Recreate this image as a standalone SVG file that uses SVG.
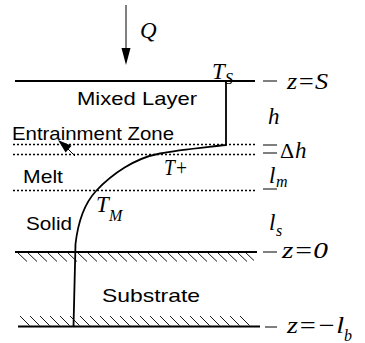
<svg xmlns="http://www.w3.org/2000/svg" width="365" height="343" viewBox="0 0 365 343">
<defs>
<style>
.sans{font-family:"Liberation Sans",Arial,sans-serif;font-size:18.5px;fill:#000}
.math{font-family:"Liberation Serif","Times New Roman",serif;font-style:italic;font-size:23px;fill:#000}
.up{font-family:"Liberation Serif","Times New Roman",serif;font-size:22px;fill:#000}
.sub{font-family:"Liberation Serif","Times New Roman",serif;font-style:italic;font-size:16px;fill:#000}
.solid{stroke:#000;stroke-width:2;fill:none}
.dot{stroke:#000;stroke-width:1.3;stroke-dasharray:2 2;fill:none}
.thin{stroke:#000;stroke-width:1;fill:none}
.hatch{stroke:#000;stroke-width:0.9;fill:none}
.curve{stroke:#000;stroke-width:1.8;fill:none}
</style>
</defs>
<rect width="365" height="343" fill="#fff"/>
<g id="layers">
<line class="solid" x1="15" y1="81" x2="255" y2="81"/>
<line class="dot" x1="13" y1="144.5" x2="256" y2="144.5"/>
<line class="dot" x1="13" y1="154.5" x2="256" y2="154.5"/>
<line class="dot" x1="13" y1="190.5" x2="256" y2="190.5"/>
<line class="solid" x1="15" y1="252" x2="257" y2="252"/>
<line class="solid" x1="18" y1="326.5" x2="260" y2="326.5"/>
<g id="ticks">
<line class="thin" x1="263" y1="81" x2="277" y2="81"/>
<line class="thin" x1="263" y1="145" x2="277" y2="145"/>
<line class="thin" x1="263" y1="153" x2="277" y2="153"/>
<line class="thin" x1="263" y1="189" x2="277" y2="189"/>
<line class="thin" x1="263" y1="252" x2="277" y2="252"/>
<line class="thin" x1="265" y1="327" x2="277" y2="327"/>
</g>
<g id="hatch-top">
<path class="hatch" d="M18,253l9,8.5M28,253l9,8.5M38,253l9,8.5M48,253l9,8.5M58,253l9,8.5M68,253l9,8.5M78,253l9,8.5M88,253l9,8.5M98,253l9,8.5M108,253l9,8.5M118,253l9,8.5M128,253l9,8.5M138,253l9,8.5M148,253l9,8.5M158,253l9,8.5M168,253l9,8.5M178,253l9,8.5M188,253l9,8.5M198,253l9,8.5M208,253l9,8.5M218,253l9,8.5M228,253l9,8.5M238,253l9,8.5M246,253l8,7.5"/>
</g>
<g id="hatch-bottom">
<path class="hatch" d="M20,316l9.5,9.5M30,316l9.5,9.5M40,316l9.5,9.5M50,316l9.5,9.5M60,316l9.5,9.5M70,316l9.5,9.5M80,316l9.5,9.5M90,316l9.5,9.5M100,316l9.5,9.5M110,316l9.5,9.5M120,316l9.5,9.5M130,316l9.5,9.5M140,316l9.5,9.5M150,316l9.5,9.5M160,316l9.5,9.5M170,316l9.5,9.5M180,316l9.5,9.5M190,316l9.5,9.5M200,316l9.5,9.5M210,316l9.5,9.5M220,316l9.5,9.5M230,316l9.5,9.5M240,316l9.5,9.5"/>
</g>
</g>
<g id="connectors">
<line class="thin" x1="126" y1="5" x2="126" y2="50" stroke-width="1.3"/>
<polygon points="121.5,48 130.5,48 126,65" fill="#000"/>
<path class="curve" d="M226,81 L226,145 C200,148 178,150 160,153.5 C135,158 112,174 96,191 C84,204 78,222 75.5,244 L73.5,326.5"/>
<line class="thin" x1="75" y1="156" x2="68" y2="149" stroke-width="1.3"/>
<polygon points="58,140 71.5,145.8 65.6,152.6" fill="#000"/>
</g>
<g id="labels">
<text class="sans" x="77" y="105" textLength="120" lengthAdjust="spacingAndGlyphs">Mixed Layer</text>
<text class="sans" x="12" y="139.5" textLength="162" lengthAdjust="spacingAndGlyphs">Entrainment Zone</text>
<text class="sans" x="23" y="183" textLength="40" lengthAdjust="spacingAndGlyphs">Melt</text>
<text class="sans" x="26" y="229.5" textLength="46" lengthAdjust="spacingAndGlyphs">Solid</text>
<text class="sans" x="102" y="302" textLength="98" lengthAdjust="spacingAndGlyphs">Substrate</text>
<text class="math" x="140" y="38">Q</text>
<text class="math" x="212" y="79">T</text><text class="sub" x="225" y="84">S</text>
<text class="math" x="287" y="89" textLength="41" lengthAdjust="spacingAndGlyphs">z=S</text>
<text class="math" x="268" y="124">h</text>
<text class="up" x="280" y="158">Δ</text><text class="math" x="295" y="158">h</text>
<text class="math" x="164" y="175" textLength="24" lengthAdjust="spacingAndGlyphs">T+</text>
<text class="math" x="269" y="183">l</text><text class="sub" x="276" y="187">m</text>
<text class="math" x="96" y="212">T</text><text class="sub" x="109" y="221">M</text>
<text class="math" x="269" y="230">l</text><text class="sub" x="276" y="236">s</text>
<text class="math" x="282" y="258" textLength="46" lengthAdjust="spacingAndGlyphs">z=0</text>
<text class="math" x="287" y="333" textLength="57" lengthAdjust="spacingAndGlyphs">z=−l</text><text class="sub" x="344" y="341">b</text>
</g>
</svg>
